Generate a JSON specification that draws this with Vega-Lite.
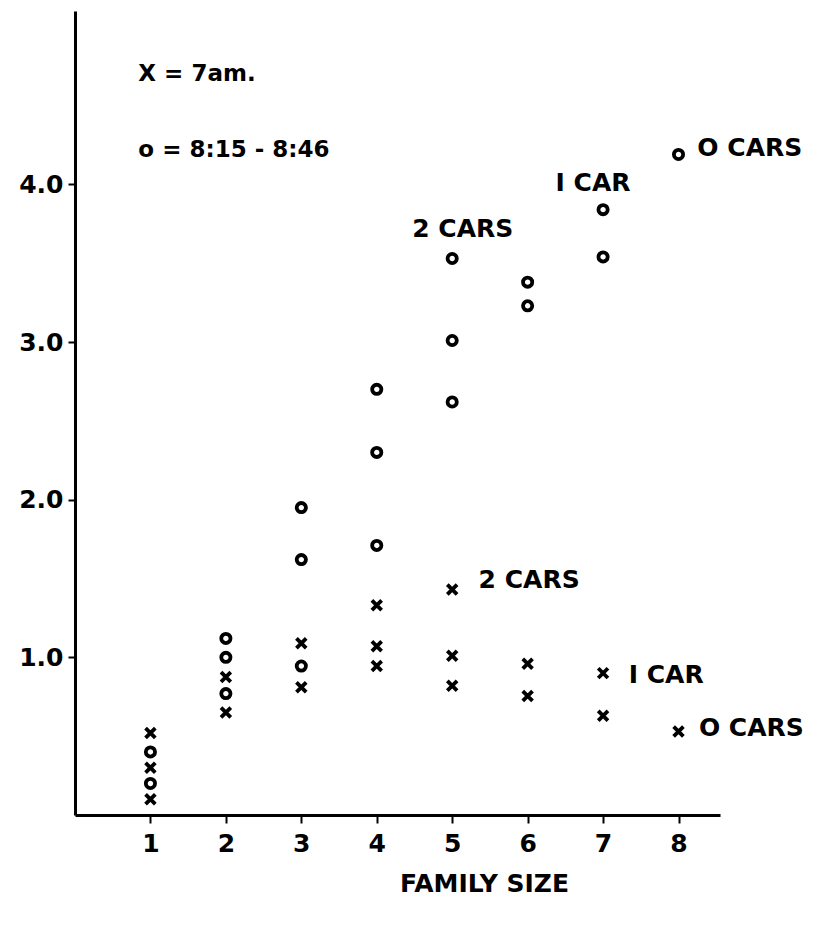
{
  "$schema": "https://vega.github.io/schema/vega-lite/v6.json",
  "autosize": {"type": "none"},
  "padding": {"left": 75, "top": 11, "right": 100, "bottom": 112},
  "width": 645,
  "height": 804,
  "background": "white",
  "config": {
    "view": {"stroke": null},
    "font": "DejaVu Sans",
    "axis": {
      "grid": false,
      "domainColor": "black",
      "domainWidth": 3,
      "tickColor": "black",
      "tickWidth": 2,
      "labelColor": "black",
      "labelFont": "DejaVu Sans",
      "labelFontWeight": "bold",
      "labelFontSize": 25,
      "titleColor": "black",
      "titleFont": "DejaVu Sans",
      "titleFontWeight": "bold",
      "titleFontSize": 25
    }
  },
  "datasets": {
    "points": [
      {"size": 1, "value": 0.52, "time": "7am"},
      {"size": 1, "value": 0.30, "time": "7am"},
      {"size": 1, "value": 0.10, "time": "7am"},
      {"size": 2, "value": 0.875, "time": "7am"},
      {"size": 2, "value": 0.65, "time": "7am"},
      {"size": 3, "value": 1.09, "time": "7am"},
      {"size": 3, "value": 0.81, "time": "7am"},
      {"size": 4, "value": 1.33, "time": "7am"},
      {"size": 4, "value": 1.07, "time": "7am"},
      {"size": 4, "value": 0.945, "time": "7am"},
      {"size": 5, "value": 1.43, "time": "7am"},
      {"size": 5, "value": 1.01, "time": "7am"},
      {"size": 5, "value": 0.82, "time": "7am"},
      {"size": 6, "value": 0.96, "time": "7am"},
      {"size": 6, "value": 0.755, "time": "7am"},
      {"size": 7, "value": 0.90, "time": "7am"},
      {"size": 7, "value": 0.63, "time": "7am"},
      {"size": 8, "value": 0.53, "time": "7am"},
      {"size": 1, "value": 0.40, "time": "8:15-8:46"},
      {"size": 1, "value": 0.20, "time": "8:15-8:46"},
      {"size": 2, "value": 1.12, "time": "8:15-8:46"},
      {"size": 2, "value": 1.00, "time": "8:15-8:46"},
      {"size": 2, "value": 0.77, "time": "8:15-8:46"},
      {"size": 3, "value": 0.945, "time": "8:15-8:46"},
      {"size": 3, "value": 1.95, "time": "8:15-8:46"},
      {"size": 3, "value": 1.62, "time": "8:15-8:46"},
      {"size": 4, "value": 2.70, "time": "8:15-8:46"},
      {"size": 4, "value": 2.30, "time": "8:15-8:46"},
      {"size": 4, "value": 1.71, "time": "8:15-8:46"},
      {"size": 5, "value": 3.53, "time": "8:15-8:46"},
      {"size": 5, "value": 3.01, "time": "8:15-8:46"},
      {"size": 5, "value": 2.62, "time": "8:15-8:46"},
      {"size": 6, "value": 3.38, "time": "8:15-8:46"},
      {"size": 6, "value": 3.23, "time": "8:15-8:46"},
      {"size": 7, "value": 3.84, "time": "8:15-8:46"},
      {"size": 7, "value": 3.54, "time": "8:15-8:46"},
      {"size": 8, "value": 4.19, "time": "8:15-8:46"}
    ],
    "labels": [
      {"size": 4.47, "value": 3.72, "text": "2 CARS", "kind": "car"},
      {"size": 6.37, "value": 4.01, "text": "I CAR", "kind": "car"},
      {"size": 8.25, "value": 4.23, "text": "O CARS", "kind": "car"},
      {"size": 5.35, "value": 1.49, "text": "2 CARS", "kind": "car"},
      {"size": 7.34, "value": 0.89, "text": "I CAR", "kind": "car"},
      {"size": 8.27, "value": 0.55, "text": "O CARS", "kind": "car"},
      {"size": 0.84, "value": 4.70, "text": "X = 7am.", "kind": "key"},
      {"size": 0.84, "value": 4.22, "text": "o = 8:15 - 8:46", "kind": "key"}
    ]
  },
  "layer": [
    {
      "data": {"name": "points"},
      "mark": {"type": "point", "filled": false, "stroke": "black", "strokeWidth": 3.8, "opacity": 1},
      "encoding": {
        "x": {
          "field": "size", "type": "quantitative",
          "scale": {"domain": [0, 8.55], "nice": false, "zero": false},
          "axis": {
            "values": [1, 2, 3, 4, 5, 6, 7, 8], "format": "d",
            "tickSize": 8, "labelPadding": 8,
            "title": "FAMILY SIZE", "titleX": 409, "titleY": 68, "titleAlign": "center", "titleBaseline": "middle"
          }
        },
        "y": {
          "field": "value", "type": "quantitative",
          "scale": {"domain": [0, 5.1], "nice": false, "zero": false},
          "axis": {"values": [1, 2, 3, 4], "format": ".1f", "tickSize": 7, "labelPadding": 5, "title": null}
        },
        "shape": {
          "field": "time", "type": "nominal",
          "scale": {"domain": ["7am", "8:15-8:46"], "range": ["M-1,-1L1,1M1,-1L-1,1", "circle"]},
          "legend": null
        },
        "size": {
          "field": "time", "type": "nominal",
          "scale": {"domain": ["7am", "8:15-8:46"], "range": [95, 85]},
          "legend": null
        }
      }
    },
    {
      "data": {"name": "labels"},
      "transform": [{"filter": "datum.kind === 'car'"}],
      "mark": {"type": "text", "align": "left", "baseline": "middle", "font": "DejaVu Sans", "fontWeight": "bold", "fontSize": 25, "color": "black"},
      "encoding": {
        "x": {"field": "size", "type": "quantitative"},
        "y": {"field": "value", "type": "quantitative"},
        "text": {"field": "text", "type": "nominal"}
      }
    },
    {
      "data": {"name": "labels"},
      "transform": [{"filter": "datum.kind === 'key'"}],
      "mark": {"type": "text", "align": "left", "baseline": "middle", "font": "DejaVu Sans", "fontWeight": "bold", "fontSize": 23, "color": "black"},
      "encoding": {
        "x": {"field": "size", "type": "quantitative"},
        "y": {"field": "value", "type": "quantitative"},
        "text": {"field": "text", "type": "nominal"}
      }
    }
  ]
}
